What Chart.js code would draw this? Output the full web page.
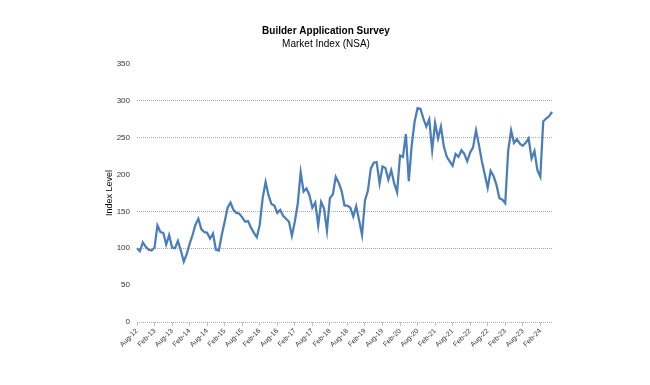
<!DOCTYPE html>
<html>
<head>
<meta charset="utf-8">
<script src="https://cdn.jsdelivr.net/npm/chart.js@4.4.1/dist/chart.umd.min.js"></script>
<style>
  body { margin: 0; background: #fff; }
</style>
</head>
<body>
<canvas id="myChart" width="650" height="385"></canvas>
<script>
'use strict';

// chart text
let chartTitle = 'Builder Application Survey';
let chartSubtitle = 'Market Index (NSA)';
let yAxisTitle = 'Index Level';

// monthly categories, Aug-12 .. Jun-24
let startYear = 2012;
let startMonth = 7;
let monthCount = 143;
let monthNames = ['Jan', 'Feb', 'Mar', 'Apr', 'May', 'Jun', 'Jul', 'Aug', 'Sep', 'Oct', 'Nov', 'Dec'];

// y ticks and which ones get a grid line
let yTicks = [0, 50, 100, 150, 200, 250, 300, 350];
let yGridShown = [0, 100, 150, 250, 300];
let labelEvery = 6;

// index values
let indexValues = [
  100, 96, 108, 102, 98, 97, 101, 131, 122, 121, 105, 118,
  101, 100, 110, 97, 82, 92, 106, 118, 132, 140, 126, 122,
  121, 113, 120, 98, 97, 118, 136, 155, 162, 152, 148, 147,
  142, 136, 137, 128, 121, 115, 132, 168, 190, 172, 160, 158,
  148, 152, 144, 140, 136, 117, 136, 160, 203, 177, 181, 172,
  155, 162, 131, 163, 154, 124, 168, 173, 197, 189, 178, 158,
  158, 155, 143, 157, 138, 118, 165, 178, 208, 216, 217, 188,
  211, 209, 193, 206, 188, 176, 226, 224, 255, 191, 240, 272,
  290, 289, 276, 265, 275, 233, 270, 249, 265, 238, 224, 218,
  212, 228, 224, 233, 228, 218, 230, 237, 260, 240, 218, 200,
  182, 205, 198, 186, 168, 166, 161, 232, 260, 243, 248, 242,
  239, 243, 249, 222, 232, 206, 197, 272, 276, 279, 285
];

let months = [];
for (let i = 0; i < monthCount; i++) {
    let m = (startMonth + i) % 12;
    let y = startYear + Math.floor((startMonth + i) / 12);
    months.push(monthNames[m] + '-' + String(y).slice(2));
}

let ctx = document.getElementById('myChart').getContext('2d');

let myChart = new Chart(ctx, {
    type: 'line',
    data: {
        labels: months,
        datasets: [{
            label: yAxisTitle,
            data: indexValues,
            borderColor: '#4a7ebb',
            borderWidth: 2.25,
            pointRadius: 0,
            tension: 0,
            fill: false
        }]
    },
    options: {
        responsive: false,
        animation: false,
        devicePixelRatio: 1,
        layout: {
            padding: { left: 100, right: 98, top: 0, bottom: 33 }
        },
        plugins: {
            legend: { display: false },
            tooltip: { enabled: false },
            title: {
                display: true,
                text: chartTitle,
                color: '#000',
                font: { family: 'Liberation Sans', size: 10, weight: 'bold' },
                padding: { top: 25, bottom: 1 }
            },
            subtitle: {
                display: true,
                text: chartSubtitle,
                color: '#000',
                font: { family: 'Liberation Sans', size: 10 },
                padding: { top: 0, bottom: 14 }
            }
        },
        scales: {
            x: {
                type: 'category',
                afterFit: function(scale) { scale.height = 30; },
                grid: {
                    drawOnChartArea: false,
                    drawTicks: true,
                    tickLength: 4,
                    color: '#c4c4c4'
                },
                border: { display: false },
                ticks: {
                    autoSkip: false,
                    minRotation: 45,
                    maxRotation: 45,
                    padding: 1,
                    color: '#333',
                    font: { family: 'Liberation Sans', size: 7 },
                    callback: function(val, index) {
                        return index % labelEvery === 0 ? this.getLabelForValue(val) : null;
                    }
                }
            },
            y: {
                min: yTicks[0],
                max: yTicks[yTicks.length - 1],
                afterFit: function(scale) { scale.width = 37; },
                afterBuildTicks: function(scale) {
                    scale.ticks = yTicks.map(function(v) { return { value: v }; });
                },
                border: { display: false, dash: [1, 1] },
                grid: {
                    drawTicks: false,
                    lineWidth: 1,
                    color: function(c) {
                        if (c.tick && yGridShown.includes(c.tick.value)) {
                            return '#a8a8a8';
                        }
                        return 'rgba(0,0,0,0)';
                    }
                },
                ticks: {
                    padding: 7,
                    color: '#333',
                    font: { family: 'Liberation Sans', size: 8 }
                },
                title: {
                    display: true,
                    text: yAxisTitle,
                    color: '#000',
                    font: { family: 'Liberation Sans', size: 9 },
                    padding: { top: 4, bottom: 0 }
                }
            }
        }
    }
});
</script>
</body>
</html>
